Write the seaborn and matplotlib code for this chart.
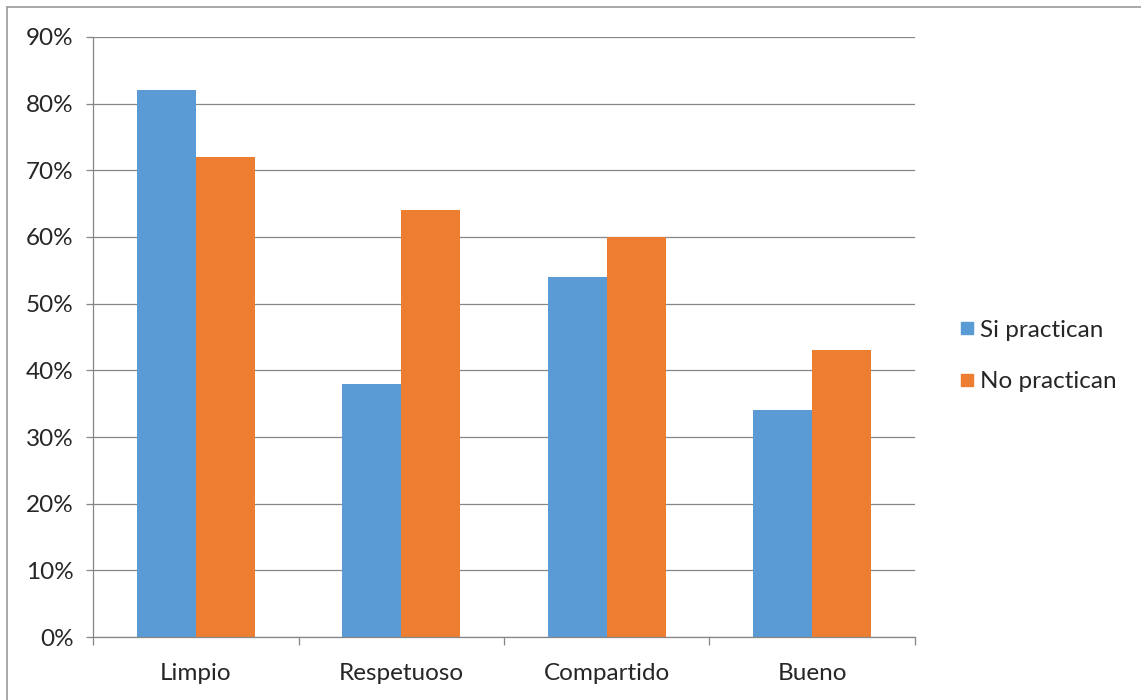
import matplotlib
matplotlib.use("Agg")
import matplotlib.pyplot as plt
import matplotlib.lines as mlines
import seaborn as sns
import pandas as pd
from matplotlib.ticker import FuncFormatter, FixedLocator

categories = ["Limpio", "Respetuoso", "Compartido", "Bueno"]
series_names = ["Si practican", "No practican"]
si_practican = [0.82, 0.38, 0.54, 0.34]
no_practican = [0.72, 0.64, 0.60, 0.43]
y_ticks = [0.0, 0.1, 0.2, 0.3, 0.4, 0.5, 0.6, 0.7, 0.8, 0.9]

colors = ["#5B9BD5", "#ED7D31"]

df = pd.DataFrame({
    "categoria": categories * 2,
    "serie": [series_names[0]] * 4 + [series_names[1]] * 4,
    "valor": si_practican + no_practican,
})

sns.set_theme(style="white")
plt.rcParams['font.family'] = ['Lato', 'DejaVu Sans']

fig = plt.figure(figsize=(11.41, 7.0), dpi=100)
ax = fig.add_axes([93/1141, 63/700, (915-93)/1141, (637-37)/700])

sns.barplot(data=df, x="categoria", y="valor", hue="serie", order=categories,
            hue_order=series_names, palette=colors, width=0.575, ax=ax,
            saturation=1, legend=False, edgecolor="none", linewidth=0)

ax.set_xlim(-0.5, 3.5)
ax.set_ylim(0, 0.9)
ax.yaxis.set_major_locator(FixedLocator(y_ticks))
ax.yaxis.set_major_formatter(FuncFormatter(lambda v, p: f"{round(v*100):d}%"))
ax.grid(axis="y", color="#868686", linewidth=0.9)
ax.set_axisbelow(True)
for s in ["top", "right"]:
    ax.spines[s].set_visible(False)
for s in ["left", "bottom"]:
    ax.spines[s].set_color("#868686")
    ax.spines[s].set_linewidth(0.9)
ax.set_xlabel("")
ax.set_ylabel("")
ax.tick_params(axis="y", which="major", length=5, width=0.9, color="#868686",
               left=True, labelsize=17.5, pad=9, labelcolor="#262626")
ax.tick_params(axis="x", which="major", length=0, labelsize=17.5, pad=19,
               labelcolor="#262626")
ax.set_xticks(range(len(categories)))
ax.set_xticks([-0.5, 0.5, 1.5, 2.5, 3.5], minor=True)
ax.tick_params(axis="x", which="minor", length=6, width=0.9, color="#868686",
               bottom=True)

handles = [mlines.Line2D([], [], marker="s", linestyle="none", markersize=8,
                         markerfacecolor=c, markeredgecolor=c) for c in colors]
fig.legend(handles, series_names, loc="center left", bbox_to_anchor=(935/1141, 1 - 356/700),
           frameon=False, fontsize=17.5, handletextpad=0.15, labelspacing=1.25,
           handlelength=0.8, labelcolor="#262626")

# figure border (top and left visible in reference)
fig.add_artist(mlines.Line2D([7/1141, 7/1141], [0, 1 - 7/700], transform=fig.transFigure,
                             color="#9a9a9a", linewidth=1.2))
fig.add_artist(mlines.Line2D([7/1141, 1], [1 - 7/700, 1 - 7/700], transform=fig.transFigure,
                             color="#9a9a9a", linewidth=1.2))

fig.savefig("out.png", dpi=100)
